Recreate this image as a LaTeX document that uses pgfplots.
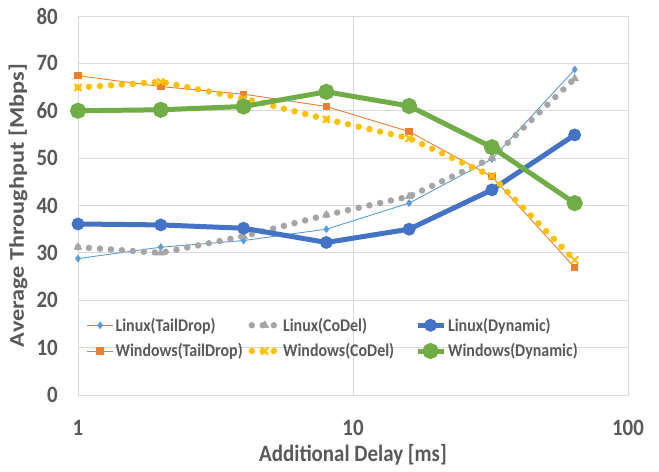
\documentclass[border=0pt]{standalone}
\usepackage{pgfplots}
\pgfplotsset{compat=1.18}
\usepackage{graphicx}
\usepackage{fontspec}
\setmainfont{Carlito}
\definecolor{tickgray}{HTML}{595959}
\definecolor{gridgray}{HTML}{D9D9D9}
\definecolor{cLT}{HTML}{5B9BD5}
\definecolor{cLC}{HTML}{A5A5A5}
\definecolor{cLD}{HTML}{4472C4}
\definecolor{cWT}{HTML}{ED7D31}
\definecolor{cWC}{HTML}{FFC000}
\definecolor{cWD}{HTML}{70AD47}
\newcommand{\vs}[1]{\scalebox{1}[1.12]{#1}}
\begin{document}
\begin{tikzpicture}
\begin{axis}[
  xmode=log, log basis x=10, xmin=1, xmax=100, ymin=0, ymax=80,
  scale only axis, width=550bp, height=379bp,
  xtick={1,10,100}, xticklabels={\vs{1},\vs{10},\vs{100}},
  ytick={0,10,...,80},
  yticklabels={\vs{0},\vs{10},\vs{20},\vs{30},\vs{40},\vs{50},\vs{60},\vs{70},\vs{80}},
  xminorticks=false,
  /pgf/number format/assume math mode=true,
  grid=major, major grid style={gridgray, line width=0.75bp},
  axis line style={gridgray, line width=0.75bp},
  tick style={draw=none},
  ticklabel style={font=\fontsize{21}{24}\selectfont\bfseries, text=tickgray, inner sep=0pt},
  xticklabel style={anchor=center, yshift=-33bp},
  yticklabel style={anchor=east, xshift=-20bp},
  every axis x label/.style={at={(rel axis cs:0.5,0)}, anchor=center, yshift=-60bp},
  every axis y label/.style={at={(rel axis cs:0,0.5)}, anchor=center, rotate=90, yshift=60bp},
  label style={font=\fontsize{21}{24}\selectfont\bfseries, text=tickgray},
  xlabel={\vs{Additional Delay [ms]}},
  ylabel={\scalebox{1.16}[1]{Average Throughput [Mbps]}},
  legend columns=3, legend cell align=left,
  legend style={at={(rel axis cs:0.01,0.15)}, anchor=west, draw=none, fill=none,
    font=\fontsize{16}{19}\selectfont\bfseries, text=tickgray,
    nodes={inner sep=2bp}, column sep=0pt, row sep=7bp},
  legend image code/.code={\draw[mark repeat=2,mark phase=2,#1] plot coordinates {(0bp,0bp)(13bp,0bp)(26bp,0bp)};},
  clip=false,
]
\coordinate (SW) at (rel axis cs:0,0);
\coordinate (NE) at (rel axis cs:1,1);
% Linux TailDrop
\addplot[color=cLT, line width=0.9bp, mark=diamond*, mark size=3.2bp] coordinates {
 (1,28.8) (2,31.2) (4,32.6) (8,35.0) (16,40.5) (32,49.8) (64,68.7)};
\addlegendentry{\makebox[131bp][l]{\vs{Linux(TailDrop)}}}
% Linux CoDel
\addplot[color=cLC, line width=6.5bp, line cap=round, dash pattern=on 0pt off 11bp,
  mark=triangle*, mark size=4.5bp, mark options={solid, line width=0.5bp}] coordinates {
 (1,31.2) (2,30.0) (4,33.5) (8,38.0) (16,41.9) (32,50.0) (64,66.8)};
\addlegendentry{\makebox[130bp][l]{\vs{Linux(CoDel)}}}
% Linux Dynamic
\addplot[color=cLD, line width=5bp, mark=*, mark size=3.8bp, mark options={solid}] coordinates {
 (1,36.1) (2,35.9) (4,35.2) (8,32.2) (16,35.0) (32,43.3) (64,54.9)};
\addlegendentry{\vs{Linux(Dynamic)}}
% Windows TailDrop
\addplot[color=cWT, line width=0.9bp, mark=square*, mark size=3.2bp] coordinates {
 (1,67.4) (2,65.1) (4,63.5) (8,60.9) (16,55.6) (32,46.1) (64,26.9)};
\addlegendentry{\makebox[131bp][l]{\vs{Windows(TailDrop)}}}
% Windows CoDel
\addplot[color=cWC, line width=6.5bp, line cap=round, dash pattern=on 0pt off 11bp,
  mark=x, mark size=4.5bp, mark options={solid, line width=2bp}] coordinates {
 (1,64.9) (2,66.1) (4,62.6) (8,58.2) (16,54.2) (32,46.2) (64,28.5)};
\addlegendentry{\makebox[130bp][l]{\vs{Windows(CoDel)}}}
% Windows Dynamic
\addplot[color=cWD, line width=5bp, mark=*, mark size=5.5bp, mark options={solid}] coordinates {
 (1,60.0) (2,60.2) (4,60.9) (8,64.0) (16,61.0) (32,52.3) (64,40.5)};
\addlegendentry{\vs{Windows(Dynamic)}}
\end{axis}
\pgfresetboundingbox
\path ([shift={(-78bp,-77bp)}]SW) rectangle ([shift={(31bp,16bp)}]NE);
\end{tikzpicture}
\end{document}
